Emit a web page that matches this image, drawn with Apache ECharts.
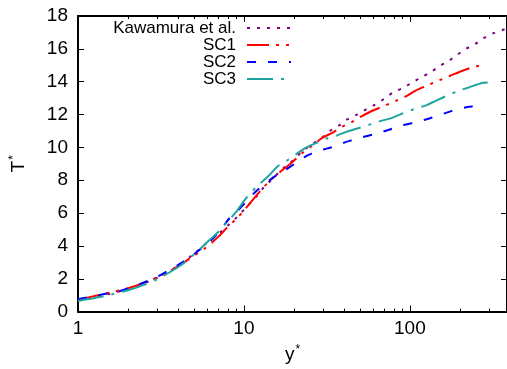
<!DOCTYPE html>
<html><head><meta charset="utf-8">
<script src="https://cdn.jsdelivr.net/npm/echarts@6/dist/echarts.min.js"></script>
<style>html,body{margin:0;padding:0;background:#fff}#c{width:507px;height:369px}</style>
</head><body><div id="c"></div>
<script>
// ---- data ----
const seriesNames = ['Kawamura et al.', 'SC1', 'SC2', 'SC3'];
const kawX = [1, 1.5, 2, 3, 4, 5, 6, 7.2, 8, 9, 10, 12, 13.4, 15, 16.5, 19, 22.7, 26, 29.8, 33.3, 37.4, 41.9, 48, 55, 61.7, 71, 79.4, 91, 102, 117, 134, 150, 172, 193, 216, 248, 278, 319, 374, 390];
const kawT = [0.71, 1.05, 1.38, 2.06, 2.78, 3.52, 4.2, 4.83, 5.25, 5.72, 6.2, 7.05, 7.66, 8.1, 8.56, 9.05, 9.8, 10.22, 10.63, 11.03, 11.33, 11.7, 12.0, 12.34, 12.6, 13.0, 13.35, 13.62, 13.92, 14.26, 14.59, 14.93, 15.28, 15.64, 15.98, 16.3, 16.65, 16.95, 17.2, 17.25];
const sc1X = [1, 1.3, 1.61, 2, 2.5, 3, 4, 5, 5.76, 7, 7.93, 9, 9.96, 11.4, 13.1, 14.7, 16.5, 18.9, 22.6, 25, 29.8, 34.1, 39, 44.9, 51.4, 60.4, 71, 83, 93, 109, 128, 150, 175, 202, 237, 278];
const sc1T = [0.72, 0.98, 1.19, 1.42, 1.75, 2.08, 2.75, 3.42, 3.82, 4.55, 5.13, 5.65, 6.14, 6.85, 7.56, 8.06, 8.5, 8.97, 9.68, 10.0, 10.59, 10.89, 11.25, 11.56, 11.9, 12.26, 12.55, 12.85, 13.07, 13.47, 13.78, 14.08, 14.36, 14.62, 14.87, 15.03];
const sc2X = [1, 1.3, 1.6, 1.84, 2.31, 3, 3.5, 4.28, 5, 5.8, 6.61, 7.4, 8.11, 9, 10, 11.9, 14.7, 17.6, 20.2, 23.7, 25.9, 28.5, 31.9, 34.1, 40.9, 44.9, 52, 60.4, 75.7, 89, 110, 131, 144, 172, 189, 226, 254];
const sc2T = [0.76, 0.98, 1.17, 1.29, 1.64, 2.12, 2.5, 3.01, 3.5, 4.0, 4.53, 5.1, 5.64, 6.05, 6.55, 7.35, 8.1, 8.6, 9.0, 9.47, 9.64, 9.8, 9.94, 10.02, 10.32, 10.44, 10.62, 10.79, 11.09, 11.33, 11.55, 11.76, 11.9, 12.16, 12.3, 12.47, 12.55];
const sc3X = [1, 1.3, 1.6, 2, 2.5, 3, 4, 5, 6, 7, 8, 9.08, 10.4, 12.2, 14, 16, 18, 20.6, 23.7, 27, 31.1, 36.5, 42.9, 50, 57.6, 66, 77.5, 89, 107, 125, 144, 165, 193, 226, 272, 305];
const sc3T = [0.65, 0.86, 1.05, 1.3, 1.63, 1.98, 2.7, 3.48, 4.22, 4.85, 5.5, 6.14, 6.95, 7.7, 8.24, 8.85, 9.17, 9.58, 9.98, 10.25, 10.52, 10.73, 11.0, 11.2, 11.4, 11.6, 11.78, 12.04, 12.34, 12.56, 12.85, 13.12, 13.41, 13.65, 13.92, 13.96];
const xMajorTicks = [1, 10, 100];
const xMinorTicks = [2, 3, 4, 5, 6, 7, 8, 9, 20, 30, 40, 50, 60, 70, 80, 90, 200, 300];
const xMin = 1, xMax = 385;
const yMin = 0, yMax = 18, yStep = 2;

const colors = ['#800080', '#ff0000', '#0000ff', '#1fa5a0'];
const dashes = [[3, 7], [22, 7, 3, 7, 3, 7], [9, 12], [26, 8, 3, 8]];
const xs = [kawX, sc1X, sc2X, sc3X];
const ts = [kawT, sc1T, sc2T, sc3T];

const font = '"Liberation Sans", Arial, sans-serif';
const black = '#000';

function xAxisCfg(pos, ticks, len, showLine, showLabel) {
  return {
    type: 'log', logBase: 10, min: xMin, max: xMax, position: pos,
    axisLine: { show: showLine, onZero: false, lineStyle: { color: black, width: 2 } },
    axisTick: { show: true, inside: true, length: len, customValues: ticks, lineStyle: { color: black, width: 1 } },
    axisLabel: { show: showLabel, customValues: xMajorTicks, color: black, fontFamily: font, fontSize: 19, margin: 8 },
    splitLine: { show: false }, minorTick: { show: false }
  };
}

const xAxes = [
  Object.assign(xAxisCfg('bottom', xMajorTicks, 6, true, true), {
    name: 'y{s|*}', nameLocation: 'middle', nameGap: 30,
    nameTextStyle: { color: black, fontFamily: font, fontSize: 19, rich: { s: { fontSize: 12, color: black, fontFamily: font, padding: [0, 0, 10, 1] } } }
  }),
  xAxisCfg('bottom', xMinorTicks, 3, false, false),
  xAxisCfg('top', xMajorTicks, 6, true, false),
  xAxisCfg('top', xMinorTicks, 3, false, false)
];

function yAxisCfg(pos, showLabel) {
  return {
    type: 'value', min: yMin, max: yMax, interval: yStep, position: pos,
    axisLine: { show: true, onZero: false, lineStyle: { color: black, width: 2 } },
    axisTick: { show: true, inside: true, length: 6, lineStyle: { color: black, width: 1 } },
    axisLabel: { show: showLabel, color: black, fontFamily: font, fontSize: 19, margin: 10 },
    splitLine: { show: false }
  };
}
const yAxes = [
  Object.assign(yAxisCfg('left', true), {
    name: 'T{s|*}', nameLocation: 'middle', nameGap: 48, nameRotate: 90,
    nameTextStyle: { color: black, fontFamily: font, fontSize: 19, rich: { s: { fontSize: 12, color: black, fontFamily: font, padding: [0, 0, 10, 1] } } }
  }),
  yAxisCfg('right', false)
];

const series = seriesNames.map((n, i) => ({
  name: n, type: 'line', xAxisIndex: 0, yAxisIndex: 0,
  data: xs[i].map((x, k) => [x, ts[i][k]]),
  showSymbol: false, symbol: 'none', smooth: 0.3, clip: true,
  lineStyle: { color: colors[i], width: 2, type: dashes[i], cap: 'butt' },
  itemStyle: { color: colors[i] },
  animation: false
}));

const legendCenters = [28, 45, 62, 79];
const legends = seriesNames.map((n, i) => ({
  data: [n], right: 215, top: legendCenters[i] - 9, align: 'right', orient: 'vertical',
  padding: 0, itemWidth: 44, itemHeight: 10, selectedMode: false,
  itemStyle: { opacity: 0 },
  textStyle: { color: black, fontFamily: font, fontSize: 17, lineHeight: 18, padding: [0, 6, 0, 0] }
}));

const chart = echarts.init(document.getElementById('c'), null, { renderer: 'canvas' });
chart.setOption({
  animation: false,
  backgroundColor: '#fff',
  grid: { left: 72, right: 0, top: 16, bottom: 56, containLabel: false },
  xAxis: xAxes,
  yAxis: yAxes,
  legend: legends,
  series: series
});
</script></body></html>
